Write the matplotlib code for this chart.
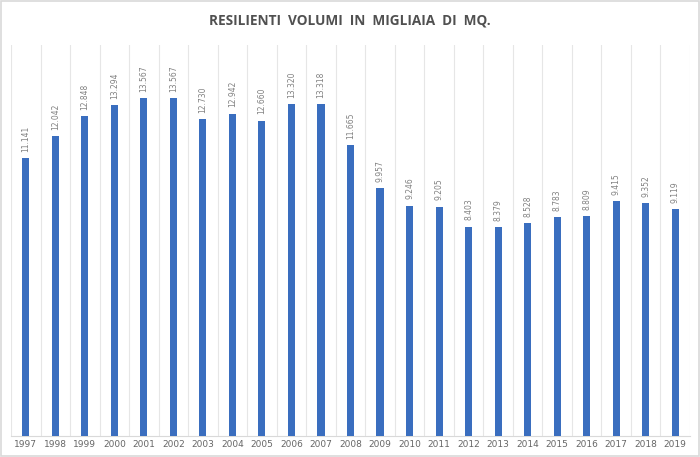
import matplotlib
matplotlib.use("Agg")
import matplotlib.pyplot as plt
from matplotlib.patches import Rectangle

years = [str(y) for y in range(1997, 2020)]
values = [11141, 12042, 12848, 13294, 13567, 13567, 12730, 12942, 12660, 13320, 13318,
          11665, 9957, 9246, 9205, 8403, 8379, 8528, 8783, 8809, 9415, 9352, 9119]
title = "RESILIENTI  VOLUMI  IN  MIGLIAIA  DI  MQ."

fig = plt.figure(figsize=(7, 4.57), dpi=100)
fig.patches.append(Rectangle((0.002, 0.002), 0.996, 0.996, transform=fig.transFigure,
                             fill=False, edgecolor="#d9d9d9", linewidth=1.2))
ax = fig.add_axes([0.0157, 0.046, 0.97, 0.856])
x = list(range(len(years)))
ax.bar(x, values, width=0.24, color="#3A6EBF", zorder=3)
ax.set_xlim(-0.5, len(years) - 0.5)
ax.set_ylim(0, 15700)
for b in range(len(years) + 1):
    ax.axvline(b - 0.5, color="#e6e6e6", linewidth=0.8, zorder=1)
for xi, v in zip(x, values):
    lbl = f"{v:,}".replace(",", ".")
    ax.text(xi, v + 250, lbl, rotation=90, ha="center", va="bottom",
            fontsize=5.5, color="#808080")
ax.set_xticks(x)
ax.set_xticklabels(years, fontsize=6.5, color="#666666")
ax.tick_params(axis="x", length=0, pad=3)
ax.set_yticks([])
for s in ["top", "left", "right"]:
    ax.spines[s].set_visible(False)
ax.spines["bottom"].set_color("#d9d9d9")
fig.text(0.5, 0.956, title, ha="center", va="center", fontsize=9.8,
         fontweight="bold", color="#505050", family="Open Sans")
fig.savefig("out.png", dpi=100)
